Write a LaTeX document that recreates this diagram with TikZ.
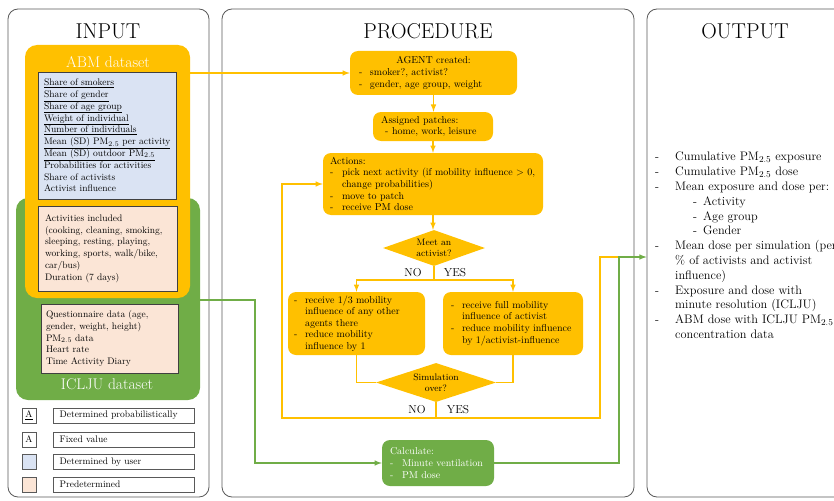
\documentclass[tikz,border=0pt]{standalone}
\usepackage{tikz}
\usetikzlibrary{shapes,arrows,positioning}

\definecolor{abmorange}{HTML}{FFC000}
\definecolor{icljugreen}{HTML}{70AD47}
\definecolor{userblue}{HTML}{DAE3F3}
\definecolor{predpink}{HTML}{FBE5D6}
\definecolor{panelgray}{HTML}{595959}

\newcommand{\listdash}{\makebox[11pt][l]{-}}
\newcommand{\outdash}{\makebox[20pt][l]{-}}
\newcommand{\subdash}{\hspace*{38pt}\makebox[10pt][l]{-}}

\begin{document}
\begin{tikzpicture}
            [
                x=1pt, y=-1pt,
                panelbox/.style={rectangle, rounded corners=10pt, draw=panelgray, line width=0.8pt, minimum height=488pt},
                paneltitle/.style={font=\fontsize{21.5}{25}\selectfont},
                datasetbox/.style={rectangle, rounded corners=12pt, inner sep=0pt},
                datasettitle/.style={text=white, font=\fontsize{15.5}{18}\selectfont},
                listbox/.style={rectangle, draw=black!75, line width=0.7pt, inner sep=0pt, align=left, font=\fontsize{9.5}{11.8}\selectfont},
                keybox/.style={rectangle, draw=panelgray, line width=0.6pt, minimum width=14pt, minimum height=15pt, inner sep=0pt, font=\fontsize{9.5}{11}\selectfont},
                keytext/.style={keybox, minimum width=141pt, text width=129pt, align=left},
                stepbox/.style={rectangle, rounded corners=8pt, fill=abmorange, inner sep=0pt, align=left, font=\fontsize{10}{11.6}\selectfont},
                decision/.style={diamond, fill=abmorange, inner sep=0pt, align=center, font=\fontsize{9.4}{10.8}\selectfont},
                branchlabel/.style={font=\fontsize{11.5}{13}\selectfont},
                orangeline/.style={draw=abmorange, line width=1.5pt},
                orangearrow/.style={orangeline, -latex},
                greenline/.style={draw=icljugreen, line width=1.5pt},
                greenarrow/.style={greenline, -latex},
                outputlist/.style={align=left, inner sep=0pt, font=\fontsize{12.3}{14.8}\selectfont},
            ]

            \useasboundingbox (0,0) rectangle (834,500);
            \clip (0,0) rectangle (834,500);

            %% PANELS
            \node[panelbox, minimum width=201pt] (inputpanel) at (108.5,253) {};
            \node[panelbox, minimum width=412pt] (procpanel) at (428,253) {};
            \node[panelbox, minimum width=233pt] (outputpanel) at (763.5,253) {};

            \node[paneltitle] (inputtitle) at (108,31) {INPUT};
            \node[paneltitle] (proctitle) at (428,31) {PROCEDURE};
            \node[paneltitle] (outputtitle) at (745,31) {OUTPUT};

            %% INPUT
            \node[datasetbox, fill=icljugreen, minimum width=184pt, minimum height=202pt] (iclju) at (108,299) {};
            \node[datasetbox, fill=abmorange, minimum width=165pt, minimum height=253pt] (abm) at (107.5,171.5) {};
            \node[datasettitle] (abmtitle) at (108,62) {ABM dataset};

            \node[listbox, fill=userblue, minimum width=138pt, minimum height=127pt, text width=126pt] (userparams) at (107,135.5)
                {\underline{Share of smokers}\\
                 \underline{Share of gender}\\
                 \underline{Share of age group}\\
                 \underline{Weight of individual}\\
                 \underline{Number of individuals}\\
                 \underline{Mean (SD) PM$_{2.5}$ per activity}\\
                 \underline{Mean (SD) outdoor PM$_{2.5}$}\\
                 Probabilities for activities\\
                 Share of activists\\
                 Activist influence};
            \node[listbox, fill=predpink, minimum width=139pt, minimum height=85pt, text width=125pt] (activities) at (107.5,248.5)
                {Activities included\\
                 (cooking, cleaning, smoking,\\
                 sleeping, resting, playing,\\
                 working, sports, walk/bike,\\
                 car/bus)\\
                 Duration (7 days)};

            \node[listbox, fill=predpink, minimum width=137pt, minimum height=69pt, text width=127pt] (questionnaire) at (109.5,338.5)
                {Questionnaire data (age,\\
                 gender, weight, height)\\
                 PM$_{2.5}$ data\\
                 Heart rate\\
                 Time Activity Diary};
            \node[datasettitle] (icljutitle) at (107,384) {ICLJU dataset};

            %% KEY
            \node[keybox] (keyprob) at (29,415.5) {\underline{A}};
            \node[keytext, right=17pt of keyprob] (keyprobtext) {Determined probabilistically};
            \node[keybox] (keyfixed) at (29,439.5) {A};
            \node[keytext, right=17pt of keyfixed] (keyfixedtext) {Fixed value};
            \node[keybox, fill=userblue] (keyuser) at (29,462) {};
            \node[keytext, right=17pt of keyuser] (keyusertext) {Determined by user};
            \node[keybox, fill=predpink] (keypred) at (29,484.5) {};
            \node[keytext, right=17pt of keypred] (keypredtext) {Predetermined};

            %% PROCEDURE
            \node[stepbox, minimum width=167pt, minimum height=44pt, text width=149pt] (agent) at (433.5,73)
                {\hfill AGENT created:\hfill\null\\
                 \listdash smoker?, activist?\\
                 \listdash gender, age group, weight};
            \node[stepbox, minimum width=120pt, minimum height=29pt, text width=104pt] (patches) at (433,126.5)
                {Assigned patches:\\
                 \hspace*{4pt}\makebox[7pt][l]{-}home, work, leisure};
            \node[stepbox, minimum width=220pt, minimum height=62pt, text width=206pt] (actions) at (433,184)
                {Actions:\\
                 \makebox[12pt][l]{-}pick next activity (if mobility influence $>$ 0,\\
                 \hspace*{12pt}change probabilities)\\
                 \makebox[12pt][l]{-}move to patch\\
                 \makebox[12pt][l]{-}receive PM dose};

            \node[decision, minimum width=102pt, minimum height=36pt, aspect=2.83] (meet) at (434,248) {Meet an\\activist?};
            \node[branchlabel] (meetno) at (413,273) {NO};
            \node[branchlabel] (meetyes) at (455,273) {YES};

            \node[stepbox, minimum width=137pt, minimum height=63pt, text width=125pt] (thirdinfl) at (356.5,323.5)
                {\listdash receive 1/3 mobility\\
                 \hspace*{11pt}influence of any other\\
                 \hspace*{11pt}agents there\\
                 \listdash reduce mobility\\
                 \hspace*{11pt}influence by 1};
            \node[stepbox, minimum width=140pt, minimum height=63pt, text width=124pt] (fullinfl) at (513,323.5)
                {\listdash receive full mobility\\
                 \hspace*{11pt}influence of activist\\
                 \listdash reduce mobility influence\\
                 \hspace*{11pt}by 1/activist-influence};

            \node[decision, minimum width=120pt, minimum height=39pt, aspect=3] (simover) at (436,382.5) {Simulation\\over?};
            \node[branchlabel] (simno) at (417,410) {NO};
            \node[branchlabel] (simyes) at (458,410) {YES};

            \node[stepbox, fill=icljugreen, text=white, minimum width=112pt, minimum height=46pt, text width=96pt] (calc) at (438,463)
                {Calculate:\\
                 \makebox[12pt][l]{-}Minute ventilation\\
                 \makebox[12pt][l]{-}PM dose};

            %% CONNECTORS
            \coordinate (loopcorner) at (282,418);
            \coordinate (yescorner) at (600,418);
            \coordinate (merge) at (619,257);
            \coordinate (icljuout) at (200,300);

            \draw[orangearrow] (abm.east |- agent.west) -- (agent.west);
            \draw[orangearrow] (agent.south) -- (agent.south |- patches.north);
            \draw[orangearrow] (patches.south) -- (patches.south |- actions.north);
            \draw[orangearrow] (actions.south) -- (actions.south |- meet.north);
            \draw[orangearrow] (meet.south) -- ++(0,14) -| (thirdinfl.north);
            \draw[orangearrow] (meet.south) -- ++(0,14) -| (fullinfl.north);
            \draw[orangeline] (thirdinfl.south) |- (simover.west);
            \draw[orangeline] (fullinfl.south) |- (simover.east);
            \draw[orangearrow] (simover.south) |- (loopcorner) |- (actions.west);
            \draw[orangeline] (simover.south) |- (yescorner) |- (merge);

            \draw[greenarrow] (icljuout) -- ++(55,0) |- (calc.west);
            \draw[greenarrow] (calc.east) -| (merge) -- (merge -| outputpanel.west);

            %% OUTPUT
            \node[outputlist, anchor=north west] (outputs) at (655,152)
                {\outdash Cumulative PM$_{2.5}$ exposure\\
                 \outdash Cumulative PM$_{2.5}$ dose\\
                 \outdash Mean exposure and dose per:\\
                 \subdash Activity\\
                 \subdash Age group\\
                 \subdash Gender\\
                 \outdash Mean dose per simulation (per\\
                 \hspace*{20pt}\% of activists and activist\\
                 \hspace*{20pt}influence)\\
                 \outdash Exposure and dose with\\
                 \hspace*{20pt}minute resolution (ICLJU)\\
                 \outdash ABM dose with ICLJU PM$_{2.5}$\\
                 \hspace*{20pt}concentration data};

\end{tikzpicture}
\end{document}
